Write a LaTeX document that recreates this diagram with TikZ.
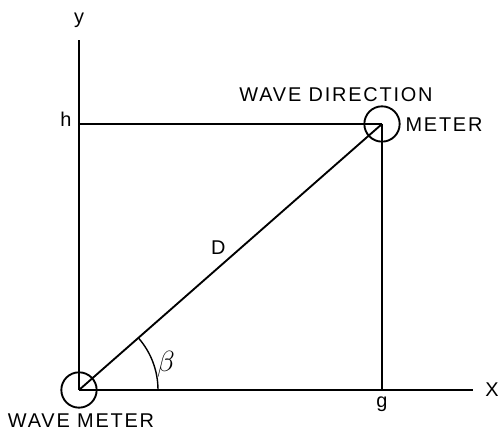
\documentclass[tikz,border=0pt]{standalone}
\usepackage{fontspec}
\setmainfont{Liberation Sans}
\usepackage{tikz}
\usetikzlibrary{positioning,calc}

\begin{document}
\begin{tikzpicture}[
  x=0.03cm, y=0.03cm,
  line width=1.6pt,
  font=\fontsize{17}{20}\selectfont\addfontfeature{LetterSpace=9},
  meter/.style={
    draw,
    circle,
    minimum size=1.06cm,
    inner sep=0pt
  },
  lbl/.style={
    inner sep=0pt
  }
]
  \useasboundingbox (-79,-43) rectangle (419,390);

  % Meters
  \node[meter] (wm) at (0,0) {};
  \node[meter] (wdm) at (303,266) {};

  % Axis ends and foot points
  \coordinate (ytop) at (0,350);
  \coordinate (xend) at (394,0);
  \coordinate (hpt) at (wm.center |- wdm.center);
  \coordinate (gpt) at (wdm.center |- wm.center);

  % Axes
  \draw (wm.center) -- (ytop);
  \draw (wm.center) -- (xend);

  % Offsets to the direction meter
  \draw (hpt) -- (wdm.center);
  \draw (wdm.center) -- (gpt);
  \draw (wm.center) -- node[lbl, pos=0.46, yshift=0.6cm] (dlbl) {D} (wdm.center);

  % Angle beta
  \draw[line width=1.2pt] ($(wm.center)+(79,0)$) arc (0:41.3:79);
  \node[lbl] (beta) at (87,26) {\fontsize{24}{26}\selectfont$\beta$};

  % Labels
  \node[lbl, anchor=base] (ylbl) at (0,366) {y};
  \node[lbl, anchor=base] (hlbl) at (-13,263) {h};
  \node[lbl, anchor=base] (glbl) at (303,-18) {g};
  \node[lbl] (xlbl) at (413,0) {X};
  \node[lbl] (wmlbl) at (2,-31) {WAVE METER};
  \node[lbl] (wdlbl) at (257,295) {WAVE DIRECTION};
  \node[lbl] (mlbl) at (365,265) {METER};

\end{tikzpicture}
\end{document}
